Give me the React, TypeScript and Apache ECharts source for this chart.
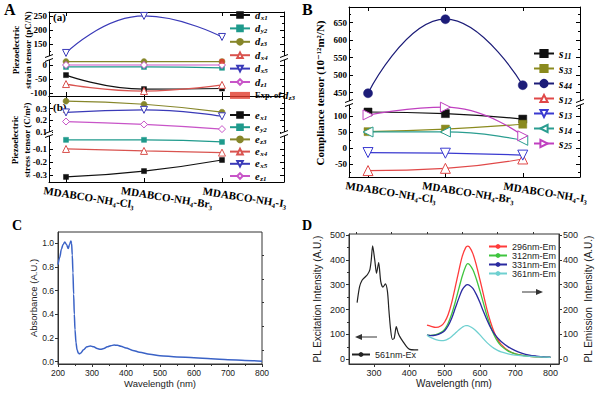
import React, { useEffect, useRef } from 'react';
import * as echarts from 'echarts';

const SERIF = '"Liberation Serif", "Times New Roman", "DejaVu Serif", serif';
const SANS = '"Liberation Sans", Arial, "DejaVu Sans", sans-serif';

// ---------- Panels A & B: compounds ----------
const compounds = ['MDABCO-NH₄-Cl₃', 'MDABCO-NH₄-Br₃', 'MDABCO-NH₄-I₃'];
const compoundIdx = [0, 1, 2];

// A(a) piezoelectric strain tensor (pC/N)
const d_x1 = [-36, -86, -84];
const d_y2 = [-7, -7, -10];
const d_z3 = [12, 12, 12];
const d_x4 = [-68, -93, -71];
const d_x5 = [118, 250, 175];
const d_z1 = [0, 0, 0];
const exp_d_z3: (number | null)[] = [null, null, 13];

// A(b) piezoelectric stress tensor (C/m2)
const e_x1 = [-0.315, -0.27, -0.185];
const e_y2 = [-0.03, -0.03, -0.046];
const e_z3 = [0.365, 0.338, 0.27];
const e_x4 = [-0.1, -0.115, -0.128];
const e_x5 = [0.268, 0.29, 0.235];
const e_z1 = [0.19, 0.165, 0.125];

// B compliance tensor (1e-12 m2/N)
const s_11 = [112, 107, 90];
const s_33 = [51, 59, 74];
const s_44 = [448, 660, 471];
const s_12 = [-70, -63, -34];
const s_13 = [-14, -16, -22];
const s_14 = [50, 50, 24];
const s_25 = [103, 127, 38];

// tick values
const aStrainTicksHi = [150, 200, 250];
const aStrainMinorHi = [125, 175, 225];
const aStrainTicksLo = [-100, -50, 0];
const aStrainMinorLo = [-75, -25];
const aStressTicksHi = [0.1, 0.2, 0.3];
const aStressMinorHi = [0.15, 0.25, 0.35];
const aStressTicksLo = [-0.3, -0.2, -0.1];
const aStressMinorLo = [-0.25, -0.15, -0.05];
const bTicksHi = [450, 500, 550, 600, 650];
const bMinorHi = [475, 525, 575, 625, 675];
const bTicksLo = [-50, 0, 50, 100];
const bMinorLo = [-75, -25, 25, 75, 125];

// ---------- Panel C: absorbance ----------
const absWavelength = [200, 205, 210, 215, 220, 225, 230, 234, 238, 240, 242, 244, 246, 248, 250, 253, 256, 260, 263, 267, 275, 285, 295, 305, 315, 325, 335, 345, 355, 365, 375, 385, 400, 420, 440, 470, 500, 550, 600, 650, 700, 750, 800];
const absorbance = [0.82, 0.88, 0.95, 0.99, 1.01, 0.99, 0.955, 0.99, 1.02, 1.0, 0.9, 0.75, 0.57, 0.4, 0.27, 0.16, 0.1, 0.072, 0.066, 0.072, 0.1, 0.125, 0.133, 0.125, 0.11, 0.105, 0.11, 0.125, 0.135, 0.14, 0.138, 0.13, 0.115, 0.095, 0.08, 0.062, 0.05, 0.04, 0.032, 0.024, 0.016, 0.01, 0.004];
const absYTicks = [0, 0.2, 0.4, 0.6, 0.8, 1.0];
const absYMinor = [0.1, 0.3, 0.5, 0.7, 0.9];

// ---------- Panel D: PL ----------
const exWavelength = [252, 259, 266, 274, 281, 288, 292, 296, 302, 307, 313, 319, 325, 332, 338, 342, 347, 352, 357, 363, 368, 373, 382, 392, 401, 415, 425];
const excitation561 = [228, 292, 318, 330, 340, 360, 399, 456, 399, 346, 389, 312, 290, 303, 272, 198, 118, 80, 84, 131, 107, 91, 71, 51, 40, 38, 38];
const emWavelength = [450, 460, 475, 490, 500, 510, 520, 530, 540, 550, 560, 565, 570, 580, 590, 600, 610, 620, 630, 640, 650, 660, 680, 700, 720, 740, 760, 780, 800];
const em296 = [137, 133, 128, 135, 150, 180, 228, 290, 355, 415, 450, 455, 452, 425, 378, 320, 260, 200, 150, 110, 80, 60, 35, 22, 16, 12, 10, 9, 8];
const em312 = [97, 96, 99, 108, 120, 145, 182, 230, 283, 335, 375, 385, 382, 360, 322, 275, 225, 175, 132, 98, 72, 54, 33, 22, 16, 12, 10, 9, 8];
const em331 = [97, 95, 97, 105, 115, 135, 165, 205, 245, 280, 298, 300, 298, 285, 260, 228, 192, 158, 128, 104, 86, 72, 50, 35, 24, 17, 13, 10, 9];
const em361 = [97, 88, 79, 75, 76, 82, 92, 105, 118, 129, 135, 135, 133, 125, 113, 98, 82, 67, 54, 44, 36, 30, 22, 17, 14, 12, 10, 9, 8];
const plXTicks = [300, 400, 500, 600, 700, 800];
const plXMinor = [250, 350, 450, 550, 650, 750];
const plYTicks = [0, 100, 200, 300, 400, 500];
const plYMinor = [50, 150, 250, 350, 450];

const fmtSub = (name: string) => {
  const m = name.match(/^(.*?)([a-zA-Z])_(\w+)$/);
  if (!m) return name;
  return (m[1] ? `{n|${m[1]}}` : '') + `{i|${m[2]}}{s|${m[3]}}`;
};

const legRich = (main: number, lh: number) => ({
  n: { fontFamily: SERIF, fontWeight: 'bold', fontSize: main - 2, color: '#000', lineHeight: lh },
  i: { fontFamily: SERIF, fontWeight: 'bold', fontStyle: 'italic', fontSize: main, color: '#000', lineHeight: lh },
  s: { fontFamily: SERIF, fontWeight: 'bold', fontStyle: 'italic', fontSize: Math.round(main * 0.7), color: '#000', lineHeight: 6, padding: [5, 0, 0, 0.5] },
});

function buildOption(): any {
  const blk = '#000';
  const grid: any[] = [];
  const xAxis: any[] = [];
  const yAxis: any[] = [];
  const series: any[] = [];
  const addGrid = (g: any) => { grid.push({ containLabel: false, outerBoundsMode: 'none', ...g }); return grid.length - 1; };
  const addX = (a: any) => { xAxis.push(a); return xAxis.length - 1; };
  const addY = (a: any) => { yAxis.push(a); return yAxis.length - 1; };
  const serifLabel = { fontFamily: SERIF, fontWeight: 'bold', fontSize: 9, color: blk };

  const abY = (gi: number, min: number, max: number, major: number[], minor: number[], fmt: (v: number) => string) => {
    const base = { type: 'value', gridIndex: gi, min, max, splitLine: { show: false } };
    const line = { show: true, onZero: false, lineStyle: { color: blk, width: 1 } };
    const idx = addY({ ...base, position: 'left', axisLine: line, axisTick: { show: true, inside: true, length: 4, customValues: major, lineStyle: { color: blk } }, axisLabel: { ...serifLabel, show: true, margin: 2, customValues: major, formatter: fmt } });
    addY({ ...base, position: 'right', axisLine: line, axisTick: { show: true, inside: true, length: 4, customValues: major, lineStyle: { color: blk } }, axisLabel: { show: false } });
    ['left', 'right'].forEach((pos) => addY({ ...base, position: pos, axisLine: { show: false, onZero: false }, axisTick: { show: true, inside: true, length: 2, customValues: minor, lineStyle: { color: blk } }, axisLabel: { show: false } }));
    return idx;
  };
  const abX = (gi: number, min: number, max: number, pos: string, labels: boolean) =>
    addX({
      type: 'value', gridIndex: gi, min, max, position: pos, splitLine: { show: false },
      axisLine: { show: true, onZero: false, lineStyle: { color: blk, width: 1 } },
      axisTick: { show: true, inside: true, length: 4, customValues: compoundIdx, lineStyle: { color: blk } },
      axisLabel: labels
        ? { ...serifLabel, fontSize: 11, customValues: compoundIdx, formatter: (v: number) => compounds[Math.round(v)], rotate: -9, align: 'center', verticalAlign: 'top', margin: 6, padding: [0, 0, 0, 48] }
        : { show: false },
    });
  const pts = (vals: (number | null)[]) => vals.map((v, i) => [compoundIdx[i], v]).filter((p) => p[1] != null);
  const ln = (name: string, vals: (number | null)[], xi: number, yi: number, color: string, symbol: string, size: number, hollow: boolean, rot = 0) =>
    series.push({
      type: 'line', name, xAxisIndex: xi, yAxisIndex: yi, data: pts(vals), smooth: 0.5, symbol, symbolSize: size, symbolRotate: rot,
      lineStyle: { color, width: 1.2 },
      itemStyle: hollow ? { color: '#fff', borderColor: color, borderWidth: 1 } : { color, borderColor: color, borderWidth: 0.5 },
      z: 3,
    });

  // ---- Panel A
  const XA = [-0.218, 2.795];
  const gA1 = addGrid({ left: 49, width: 235, top: 12, height: 46 });
  const xA1 = abX(gA1, XA[0], XA[1], 'top', false);
  const yA1 = abY(gA1, 100, 264, aStrainTicksHi, aStrainMinorHi, (v) => String(v));
  const gA2 = addGrid({ left: 49, width: 235, top: 58, height: 38 });
  const xA2 = abX(gA2, XA[0], XA[1], 'bottom', false);
  const yA2 = abY(gA2, -110.7, 25, aStrainTicksLo, aStrainMinorLo, (v) => String(v));
  const gA3 = addGrid({ left: 49, width: 235, top: 96, height: 38 });
  const xA3 = abX(gA3, XA[0], XA[1], 'top', false);
  const yA3 = abY(gA3, 0.083, 0.409, aStressTicksHi, aStressMinorHi, (v) => v.toFixed(1));
  const gA4 = addGrid({ left: 49, width: 235, top: 134, height: 48 });
  const xA4 = abX(gA4, XA[0], XA[1], 'bottom', true);
  const yA4 = abY(gA4, -0.354, 0.015, aStressTicksLo, aStressMinorLo, (v) => v.toFixed(1));

  ln('d_x5', d_x5, xA1, yA1, '#3a3ab8', 'triangle', 7, true, 180);
  ln('d_x1', d_x1, xA2, yA2, '#111', 'rect', 5, false);
  ln('d_y2', d_y2, xA2, yA2, '#1f9a8c', 'rect', 5, false);
  ln('d_z3', d_z3, xA2, yA2, '#86862a', 'circle', 6, false);
  ln('d_x4', d_x4, xA2, yA2, '#d9534f', 'triangle', 7, true);
  ln('d_z1', d_z1, xA2, yA2, '#c855c8', 'diamond', 7, true);
  series.push({ type: 'scatter', name: 'Exp. of d_z3', xAxisIndex: xA2, yAxisIndex: yA2, data: pts(exp_d_z3), symbol: 'rect', symbolSize: 5, itemStyle: { color: '#e03a2a' }, z: 4 });

  ln('e_x1', e_x1, xA4, yA4, '#111', 'rect', 5, false);
  ln('e_y2', e_y2, xA4, yA4, '#1f9a8c', 'rect', 5, false);
  ln('e_z3', e_z3, xA3, yA3, '#86862a', 'circle', 6, false);
  ln('e_x4', e_x4, xA4, yA4, '#d9534f', 'triangle', 7, true);
  ln('e_x5', e_x5, xA3, yA3, '#3a3ab8', 'triangle', 7, true, 180);
  ln('e_z1', e_z1, xA3, yA3, '#c855c8', 'diamond', 7, true);

  // ---- Panel B
  const XB = [-0.246, 2.74];
  const gB1 = addGrid({ left: 349, width: 231, top: 7, height: 96 });
  const xB1 = abX(gB1, XB[0], XB[1], 'top', false);
  const yB1 = abY(gB1, 420, 695, bTicksHi, bMinorHi, (v) => String(v));
  const gB2 = addGrid({ left: 349, width: 231, top: 103, height: 74 });
  const xB2 = abX(gB2, XB[0], XB[1], 'bottom', true);
  const yB2 = abY(gB2, -90, 140, bTicksLo, bMinorLo, (v) => String(v));

  ln('s_11', s_11, xB2, yB2, '#111', 'rect', 8, false);
  ln('s_33', s_33, xB2, yB2, '#8a8a1e', 'rect', 8, false);
  ln('s_44', s_44, xB1, yB1, '#1c1c78', 'circle', 9, false);
  ln('s_12', s_12, xB2, yB2, '#e04848', 'triangle', 10, true);
  ln('s_13', s_13, xB2, yB2, '#3a3ad0', 'triangle', 10, true, 180);
  ln('s_14', s_14, xB2, yB2, '#2a9d90', 'triangle', 10, true, 90);
  ln('s_25', s_25, xB2, yB2, '#c040c0', 'triangle', 10, true, -90);

  // ---- Panel C
  const sansLabel = { fontFamily: SANS, fontSize: 8.5, color: '#222' };
  const gray = '#333';
  const gC = addGrid({ left: 58, width: 204, top: 232, height: 132, show: true, borderColor: gray, borderWidth: 1 });
  const xC = addX({
    type: 'value', gridIndex: gC, min: 200, max: 800, interval: 100, splitLine: { show: false },
    axisLine: { onZero: false, lineStyle: { color: gray } }, axisTick: { length: 3, lineStyle: { color: gray } },
    minorTick: { show: true, splitNumber: 2, length: 2, lineStyle: { color: gray } },
    axisLabel: { ...sansLabel, margin: 4 },
    name: 'Wavelength (nm)', nameLocation: 'middle', nameGap: 14, nameTextStyle: { fontFamily: SANS, fontSize: 9.5, color: '#222' },
  });
  const yC = addY({
    type: 'value', gridIndex: gC, min: -0.02, max: 1.095, splitLine: { show: false },
    axisLine: { onZero: false, lineStyle: { color: gray } }, axisTick: { length: 3, customValues: absYTicks, lineStyle: { color: gray } },
    axisLabel: { ...sansLabel, margin: 4, customValues: absYTicks, formatter: (v: number) => v.toFixed(1) },
    name: 'Absorbance (A.U.)', nameLocation: 'middle', nameGap: 20, nameTextStyle: { fontFamily: SANS, fontSize: 9.5, color: '#222' },
  });
  addY({ type: 'value', gridIndex: gC, min: -0.02, max: 1.095, splitLine: { show: false }, axisLine: { show: false, onZero: false }, axisTick: { length: 2, customValues: absYMinor, lineStyle: { color: gray } }, axisLabel: { show: false } });
  series.push({ type: 'line', name: 'Absorbance', xAxisIndex: xC, yAxisIndex: yC, data: absWavelength.map((w, i) => [w, absorbance[i]]), smooth: 0.3, smoothMonotone: 'x', symbol: 'none', lineStyle: { color: '#3a62c6', width: 1.5 } });

  // ---- Panel D
  const gD = addGrid({ left: 349, width: 210, top: 234, height: 130, show: true, borderColor: gray, borderWidth: 1 });
  const dX = { type: 'value', gridIndex: gD, min: 229, max: 824, splitLine: { show: false } };
  const xD = addX({
    ...dX, axisLine: { onZero: false, lineStyle: { color: gray } }, axisTick: { length: 3, customValues: plXTicks, lineStyle: { color: gray } },
    axisLabel: { ...sansLabel, fontSize: 9, margin: 4, customValues: plXTicks },
    name: 'Wavelength (nm)', nameLocation: 'middle', nameGap: 14, nameTextStyle: { fontFamily: SANS, fontSize: 10, color: '#222' },
  });
  addX({ ...dX, axisLine: { show: false, onZero: false }, axisTick: { length: 2, customValues: plXMinor, lineStyle: { color: gray } }, axisLabel: { show: false } });
  const dY = { type: 'value', gridIndex: gD, min: -19, max: 504, splitLine: { show: false } };
  const yDL = addY({
    ...dY, position: 'left', axisLine: { onZero: false, lineStyle: { color: gray } }, axisTick: { length: 3, customValues: plYTicks, lineStyle: { color: gray } },
    axisLabel: { ...sansLabel, fontSize: 9, margin: 4, customValues: plYTicks },
    name: 'PL Excitation Intensity (A.U.)', nameLocation: 'middle', nameGap: 27, nameTextStyle: { fontFamily: SANS, fontSize: 10, color: '#222' },
  });
  const yDR = addY({
    ...dY, position: 'right', axisLine: { onZero: false, lineStyle: { color: gray } }, axisTick: { length: 3, customValues: plYTicks, lineStyle: { color: gray } },
    axisLabel: { ...sansLabel, fontSize: 9, margin: 4, customValues: plYTicks },
    name: 'PL Emission  Intensity (A.U.)', nameLocation: 'middle', nameGap: 24, nameTextStyle: { fontFamily: SANS, fontSize: 10, color: '#222' },
  });
  ['left', 'right'].forEach((pos) => addY({ ...dY, position: pos, axisLine: { show: false, onZero: false }, axisTick: { length: 2, customValues: plYMinor, lineStyle: { color: gray } }, axisLabel: { show: false } }));

  series.push({ type: 'line', name: '561nm-Ex', xAxisIndex: xD, yAxisIndex: yDL, data: exWavelength.map((w, i) => [w, excitation561[i]]), smooth: 0.25, symbol: 'none', lineStyle: { color: '#222', width: 1.2 }, itemStyle: { color: '#222' } });
  const emis: [string, number[], string][] = [
    ['296nm-Em', em296, '#ff3b3b'],
    ['312nm-Em', em312, '#3fc43f'],
    ['331nm-Em', em331, '#2a2aa0'],
    ['361nm-Em', em361, '#6fd0d0'],
  ];
  emis.forEach(([name, vals, color]) =>
    series.push({ type: 'line', name, xAxisIndex: xD, yAxisIndex: yDR, data: emWavelength.map((w, i) => [w, vals[i]]), smooth: 0.3, symbol: 'none', lineStyle: { color, width: 1.3 }, itemStyle: { color } })
  );

  // ---- legends
  const legend = [
    { data: ['d_x1', 'd_y2', 'd_z3', 'd_x4', 'd_x5', 'd_z1', 'Exp. of d_z3'], orient: 'vertical', left: 229, top: 9, itemWidth: 20, itemHeight: 7, itemGap: 1.4, padding: 0, formatter: fmtSub, textStyle: { rich: legRich(10.5, 10) } },
    { data: ['e_x1', 'e_y2', 'e_z3', 'e_x4', 'e_x5', 'e_z1'], orient: 'vertical', left: 229, top: 109, itemWidth: 20, itemHeight: 7, itemGap: 0.2, padding: 0, formatter: fmtSub, textStyle: { rich: legRich(10.5, 10) } },
    { data: ['s_11', 's_33', 's_44', 's_12', 's_13', 's_14', 's_25'], orient: 'vertical', left: 533, top: 47, itemWidth: 20, itemHeight: 9, itemGap: 2, padding: 0, formatter: fmtSub, textStyle: { rich: legRich(11.5, 11) } },
    { data: ['296nm-Em', '312nm-Em', '331nm-Em', '361nm-Em'], orient: 'vertical', left: 488, top: 242, itemWidth: 18, itemHeight: 6, itemGap: 0, padding: 0, textStyle: { fontFamily: SANS, fontSize: 9, color: '#222', lineHeight: 9 } },
    { data: ['561nm-Ex'], orient: 'vertical', left: 351, top: 350, itemWidth: 18, itemHeight: 6, padding: 0, textStyle: { fontFamily: SANS, fontSize: 9, color: '#222' } },
  ];

  // ---- decorations
  const brk = (x: number, y: number) => ({
    type: 'group', children: [
      { type: 'rect', shape: { x: x - 3, y: y - 2, width: 6, height: 4 }, style: { fill: '#fff' }, z: 100 },
      { type: 'line', shape: { x1: x - 4, y1: y - 0.5, x2: x + 4, y2: y - 3.5 }, style: { stroke: '#000', lineWidth: 1 }, z: 101 },
      { type: 'line', shape: { x1: x - 4, y1: y + 3.5, x2: x + 4, y2: y + 0.5 }, style: { stroke: '#000', lineWidth: 1 }, z: 101 },
    ],
  });
  const bigLetter = (t: string, x: number, y: number, size: number) => ({ type: 'text', x, y, style: { text: t, fontFamily: SERIF, fontWeight: 'bold', fontSize: size, fill: '#000', align: 'left', verticalAlign: 'top' } });
  const vtext = (t: string, x: number, y: number, size: number, lh: number) => ({ type: 'text', x, y, rotation: Math.PI / 2, style: { text: t, fontFamily: SERIF, fontWeight: 'bold', fontSize: size, fill: '#000', align: 'center', verticalAlign: 'middle', lineHeight: lh } });
  const arrow = (x1: number, x2: number, y: number) => {
    const dir = Math.sign(x2 - x1);
    return {
      type: 'group', children: [
        { type: 'line', shape: { x1, y1: y, x2: x2 - dir * 5, y2: y }, style: { stroke: '#9a9a9a', lineWidth: 2 } },
        { type: 'polygon', shape: { points: [[x2, y], [x2 - dir * 7, y - 3], [x2 - dir * 7, y + 3]] }, style: { fill: '#333' } },
      ],
    };
  };
  const graphic = [
    bigLetter('A', 4, 1, 16),
    bigLetter('B', 302, 1, 16),
    bigLetter('C', 12, 218, 14),
    bigLetter('D', 302, 218, 14),
    vtext('Piezoelectric\nstrain tensor (pC/N)', 22, 50, 9, 12),
    vtext('Piezoelectric\nstress tensor (C/m²)', 21, 140, 9, 12),
    vtext('Compliance tensor (10⁻¹²m²/N)', 320, 93, 11, 13),
    { type: 'text', x: 53, y: 17, style: { text: '(a)', fontFamily: SERIF, fontWeight: 'bold', fontSize: 11, fill: '#000', verticalAlign: 'middle' } },
    { type: 'text', x: 53, y: 107, style: { text: '(b)', fontFamily: SERIF, fontWeight: 'bold', fontSize: 11, fill: '#000', verticalAlign: 'middle' } },
    brk(49, 58), brk(284, 58), brk(49, 134), brk(284, 134), brk(349, 103), brk(580, 103),
    arrow(377, 355, 337),
    arrow(522, 543, 292),
  ];

  return {
    animation: false,
    backgroundColor: '#fff',
    textStyle: { fontFamily: SANS },
    grid, xAxis, yAxis, series, legend, graphic,
  };
}

export default function App() {
  const ref = useRef<HTMLDivElement>(null);
  useEffect(() => {
    const chart = echarts.init(ref.current!, undefined, { renderer: 'svg' });
    chart.setOption(buildOption());
    return () => chart.dispose();
  }, []);
  return <div ref={ref} style={{ position: 'absolute', left: 0, top: 0, width: 600, height: 394, background: '#fff' }} />;
}
